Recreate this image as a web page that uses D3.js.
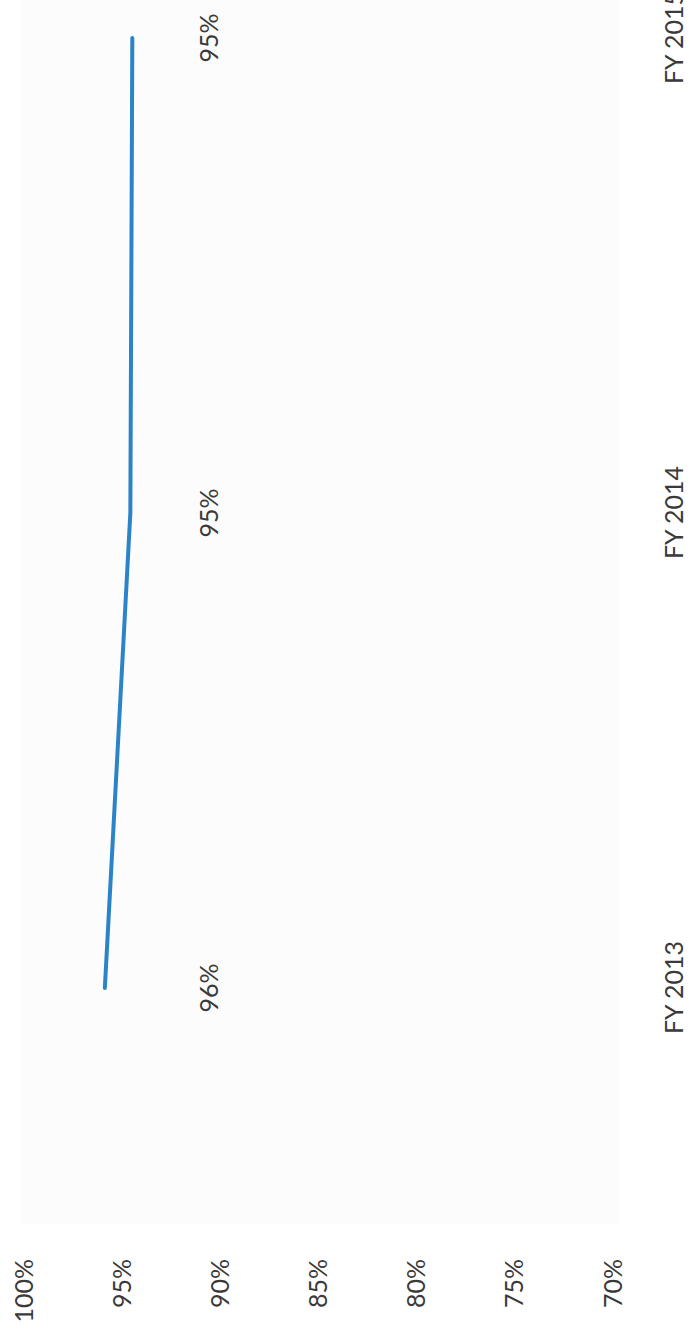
<!DOCTYPE html>
<html>
<head>
<meta charset="utf-8">
<script src="https://cdn.jsdelivr.net/npm/d3@7"></script>
<style>
  html, body { margin: 0; padding: 0; background: #ffffff; }
  svg { display: block; }
  text { font-family: Lato, "Open Sans", sans-serif; }
</style>
</head>
<body>
<div id="chart"></div>
<script>
// ---- data ----
const categories = ["FY 2013", "FY 2014", "FY 2015"];
const values = [95.9, 94.6, 94.5];            // percent
const valueTicks = [100, 95, 90, 85, 80, 75, 70];

// ---- layout (chart is drawn in its own frame, then rotated -90°) ----
const pageW = 693, pageH = 1334;
const W = pageH, H = pageW;   // chart frame: width along page height

const svg = d3.select("#chart").append("svg")
  .attr("width", pageW).attr("height", pageH);

const g = svg.append("g")
  .attr("transform", `translate(0,${pageH}) rotate(-90)`);

const x = d3.scalePoint().domain(categories).range([346, 1296]);
const y = d3.scaleLinear().domain([70, 100]).range([613, 24.4]);

// faint plot area
g.append("rect")
  .attr("x", 110).attr("y", 20)
  .attr("width", W - 110).attr("height", 600)
  .attr("fill", "#fcfcfc");

// value axis
const yAxis = g.append("g")
  .attr("transform", "translate(81,0)")
  .call(d3.axisLeft(y).tickValues(valueTicks).tickFormat(d => d + "%").tickSize(0).tickPadding(6));
yAxis.select(".domain").remove();
yAxis.selectAll("text")
  .attr("font-family", "Lato, 'Open Sans', sans-serif")
  .attr("font-size", 25)
  .attr("fill", "#3a3a3a");

// category axis
const xAxis = g.append("g")
  .attr("transform", "translate(0,665)")
  .call(d3.axisBottom(x).tickSize(0).tickPadding(0));
xAxis.select(".domain").remove();
xAxis.selectAll("text")
  .attr("font-family", "Lato, 'Open Sans', sans-serif")
  .attr("font-size", 25)
  .attr("fill", "#3a3a3a");

// line
const pts = categories.map((c, i) => ({ c, v: values[i] }));
const line = d3.line().x(d => x(d.c)).y(d => y(d.v));
g.append("path")
  .datum(pts)
  .attr("d", line)
  .attr("fill", "none")
  .attr("stroke", "#2b84c8")
  .attr("stroke-width", 4)
  .attr("stroke-linecap", "round")
  .attr("stroke-linejoin", "round");

// data labels (one row below the line)
g.selectAll("text.dl")
  .data(pts)
  .enter().append("text")
  .attr("class", "dl")
  .attr("x", d => x(d.c))
  .attr("y", 209)
  .attr("dy", "0.35em")
  .attr("text-anchor", "middle")
  .attr("font-size", 25)
  .attr("fill", "#3a3a3a")
  .text(d => Math.round(d.v) + "%");
</script>
</body>
</html>
